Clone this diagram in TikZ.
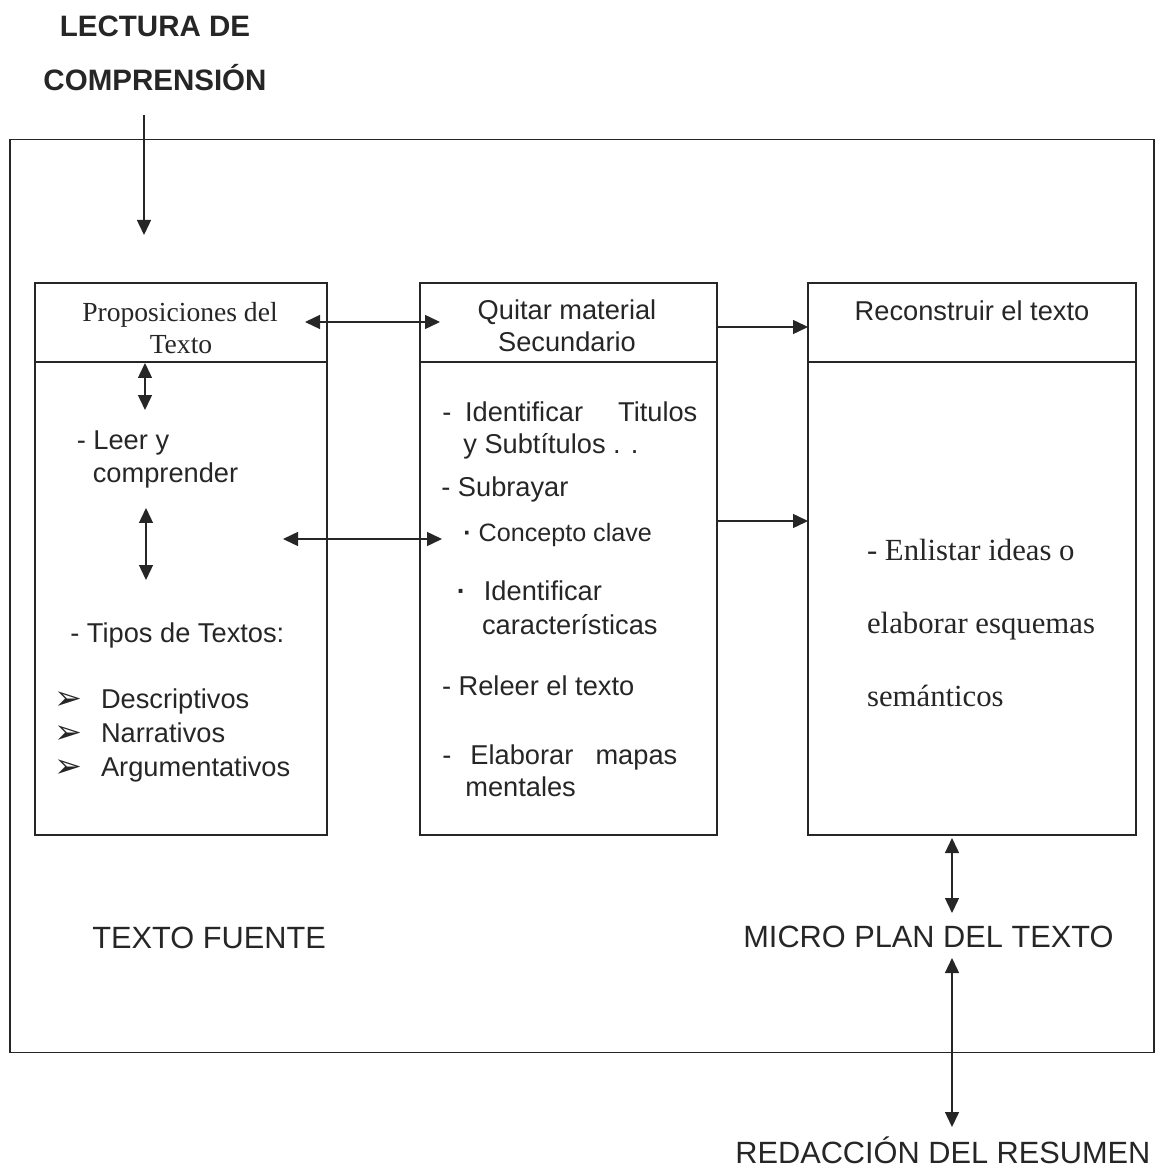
\documentclass[tikz,border=0pt]{standalone}
\usepackage{fontspec}
\setmainfont{Liberation Serif}
\setsansfont{Liberation Sans}
\newfontfamily\symfont{DejaVu Sans}
\usetikzlibrary{arrows.meta}

\begin{document}
\begin{tikzpicture}[
  x=0.02cm,
  y=-0.02cm,
  frame/.style={
    rectangle,
    draw=black!85,
    line width=1pt,
    inner sep=0pt
  },
  hdr/.style={frame, minimum height=1.58cm},
  panel/.style={frame, minimum height=9.46cm},
  txt/.style={
    anchor=base west,
    inner sep=0pt,
    text=black!85,
    font=\fontsize{15.5}{18}\selectfont\sffamily
  },
  ctxt/.style={txt, anchor=base},
  serif/.style={txt, font=\fontsize{15.7}{18}\selectfont\rmfamily},
  big/.style={txt, font=\fontsize{17.5}{21}\selectfont\sffamily},
  bigserif/.style={txt, font=\fontsize{17.5}{21}\selectfont\rmfamily},
  bulletmark/.style={txt, font=\fontsize{19}{21}\selectfont\symfont},
  arrow/.style={-{Triangle[length=0.3cm, width=0.28cm]}, line width=0.8pt, draw=black!85},
  darrow/.style={{Triangle[length=0.3cm, width=0.28cm]}-{Triangle[length=0.3cm, width=0.28cm]}, line width=0.8pt, draw=black!85}
]
\useasboundingbox (0,0) rectangle (1162,1168);

% Title above the frame
\node[ctxt, font=\fontsize{16.8}{20}\selectfont\sffamily\bfseries] (lectura) at (155,37) {LECTURA DE};
\node[ctxt, font=\fontsize{16.8}{20}\selectfont\sffamily\bfseries] (comprension) at (155,91) {COMPRENSIÓN};

% Outer frame
\node[frame, minimum width=22.88cm, minimum height=18.26cm] (marco) at (582,596) {};

% Column 1: texto fuente
\node[hdr, minimum width=5.84cm] (propHead) at (181,322.5) {};
\node[panel, minimum width=5.84cm] (propBody) at (181,598.5) {};
\node[serif, anchor=base] (propT1) at (180,321.5) {Proposiciones del};
\node[serif, anchor=base] (propT2) at (181,354) {Texto};
\node[txt] (leer1) at (76.5,449) {- Leer y};
\node[txt] (leer2) at (92.5,482) {comprender};
\node[txt] (tipos) at (70,642) {- Tipos de Textos:};
\foreach \name/\lbl/\yy in {desc/Descriptivos/708, narr/Narrativos/742.7, argu/Argumentativos/776}{
  \node[bulletmark] (\name Mark) at (54,\yy+1) {➢};
  \node[txt] (\name) at (100.7,\yy) {\lbl};
}

% Column 2: quitar material
\node[hdr, minimum width=5.94cm] (quitHead) at (568.5,322.5) {};
\node[panel, minimum width=5.94cm] (quitBody) at (568.5,598.5) {};
\node[ctxt] (quitT1) at (567,320) {Quitar material};
\node[ctxt] (quitT2) at (567,352) {Secundario};
\node[txt] (ident) at (442,421.7) {\makebox[5.1cm][l]{-\hspace{0.5em}Identificar\hfill Titulos}};
\node[txt] (subt) at (463,454) {y Subtítulos . .};
\node[txt] (subr) at (441,496) {- Subrayar};
\node[txt, font=\fontsize{14.3}{17}\selectfont\sffamily] (conc) at (463,541.7) {\textbf{·} Concepto clave};
\node[txt] (ident2) at (456.5,600) {\textbf{·}\hspace{0.66em}Identificar};
\node[txt] (carac) at (481.7,634) {características};
\node[txt] (releer) at (441.7,695) {- Releer el texto};
\node[txt] (elab) at (442,764) {\makebox[4.7cm][l]{-\hspace{0.7em}Elaborar\hfill mapas}};
\node[txt] (ment) at (465,796.7) {mentales};

% Column 3: reconstruir
\node[hdr, minimum width=6.56cm] (recHead) at (972,322.5) {};
\node[panel, minimum width=6.56cm] (recBody) at (972,598.5) {};
\node[ctxt] (recT) at (972,321) {Reconstruir el texto};
\node[bigserif] (enl1) at (866.7,560) {- Enlistar ideas o};
\node[bigserif] (enl2) at (866.7,633) {elaborar esquemas};
\node[bigserif] (enl3) at (866.7,706) {semánticos};

% Bottom labels
\node[big] (fuente) at (92,948) {TEXTO FUENTE};
\node[big] (micro) at (743,947) {MICRO PLAN DEL TEXTO};
\node[big] (redac) at (735,1163) {REDACCIÓN DEL RESUMEN};

% Arrow end points
\coordinate (lecS) at (144,115);
\coordinate (lecE) at (144,235);
\coordinate (propR) at (305,322);
\coordinate (quitL) at (440,322);
\coordinate (vA1) at (145,363);
\coordinate (vA2) at (145,410);
\coordinate (vB1) at (146,508);
\coordinate (vB2) at (146,580);
\coordinate (midL) at (283,539);
\coordinate (midR) at (442,539);
\coordinate (quitR1) at (717,327);
\coordinate (recL1) at (808,327);
\coordinate (quitR2) at (717,521);
\coordinate (recL2) at (808,521);
\coordinate (recS) at (952,838);
\coordinate (microN) at (952,913);
\coordinate (microS) at (952,958);
\coordinate (redacN) at (952,1127);

\draw[arrow] (lecS) -- (lecE);
\draw[darrow] (propR) -- (quitL);
\draw[darrow] (vA1) -- (vA2);
\draw[darrow] (vB1) -- (vB2);
\draw[darrow] (midL) -- (midR);
\draw[arrow] (quitR1) -- (recL1);
\draw[arrow] (quitR2) -- (recL2);
\draw[darrow] (recS) -- (microN);
\draw[darrow] (microS) -- (redacN);
\end{tikzpicture}
\end{document}
